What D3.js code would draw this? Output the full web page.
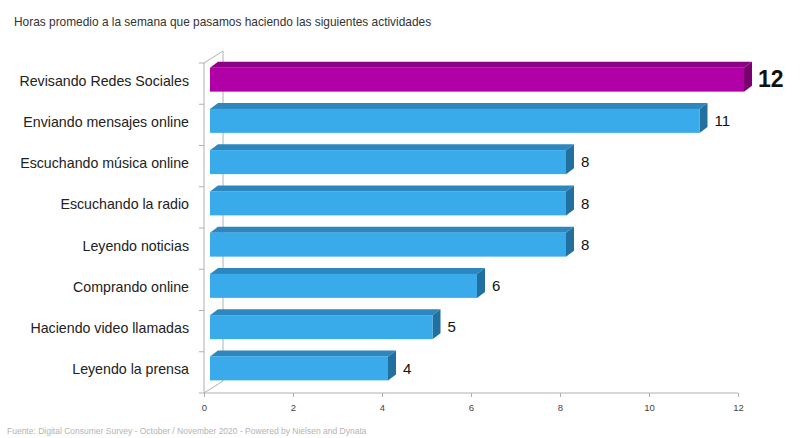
<!DOCTYPE html>
<html>
<head>
<meta charset="utf-8">
<script src="https://cdn.jsdelivr.net/npm/d3@7.9.0/dist/d3.min.js"></script>
<style>
  body { margin: 0; background: #fff; }
  svg { display: block; font-family: "Liberation Sans", Arial, sans-serif; }
</style>
</head>
<body>
<svg id="chart" width="800" height="438"></svg>
<script>
// data
const categories = [
  'Revisando Redes Sociales',
  'Enviando mensajes online',
  'Escuchando música online',
  'Escuchando la radio',
  'Leyendo noticias',
  'Comprando online',
  'Haciendo video llamadas',
  'Leyendo la prensa'
];
const hours = [12, 11, 8, 8, 8, 6, 5, 4];
const xTicks = [0, 2, 4, 6, 8, 10, 12];
const highlight = 'Revisando Redes Sociales';

const title = 'Horas promedio a la semana que pasamos haciendo las siguientes actividades';
const source = 'Fuente: Digital Consumer Survey - October / November 2020 - Powered by Nielsen and Dynata';

const svg = d3.select('#chart');

let x = d3.scaleLinear().domain([0, 12]).range([204, 738]);
let y = d3.scaleBand().domain(categories).range([63, 393]).paddingInner(0).paddingOuter(0);

// 3d offsets
const wall = { dx: 19, dy: -12 };   // depth of the left wall
const front = { dx: 6, dy: -4 };    // where the front face of a bar sits
const depth = { dx: 8, dy: -6 };    // bar thickness going back
const barH = 24;

const colors = {
  blue: { front: '#39aaea', top: '#2d87bf', side: '#22709f' },
  purple: { front: '#b000a6', top: '#8d0086', side: '#7a0072' }
};

// title + footer
svg.append('text')
  .attr('x', 14).attr('y', 26)
  .attr('font-size', 11.9)
  .attr('fill', '#333')
  .text(title);

svg.append('text')
  .attr('x', 7).attr('y', 434)
  .attr('font-size', 8.5)
  .attr('fill', '#b4b4b4')
  .text(source);

// left wall
const axisColor = '#b0b0b0';
const wallG = svg.append('g').attr('stroke', axisColor).attr('stroke-width', 1).attr('fill', 'none');
wallG.append('line')
  .attr('x1', x(0)).attr('y1', 63).attr('x2', x(0)).attr('y2', 393);
wallG.append('line')
  .attr('x1', x(0) + wall.dx).attr('y1', 63 + wall.dy)
  .attr('x2', x(0) + wall.dx).attr('y2', 393 + wall.dy);
wallG.append('line')
  .attr('x1', x(0)).attr('y1', 63).attr('x2', x(0) + wall.dx).attr('y2', 63 + wall.dy);
wallG.append('line')
  .attr('x1', x(0)).attr('y1', 393).attr('x2', x(0) + wall.dx).attr('y2', 393 + wall.dy);

// category ticks on the wall
let bounds = categories.map(c => y(c)).concat([y.range()[1]]);
wallG.selectAll('.ctick')
  .data(bounds)
  .join('line')
  .attr('x1', x(0) - 5).attr('x2', x(0))
  .attr('y1', d => d).attr('y2', d => d);

// bottom axis
let xAxis = d3.axisBottom(x).tickValues(xTicks).tickSize(4).tickPadding(7);
let axisG = svg.append('g')
  .attr('transform', 'translate(0,393)')
  .call(xAxis);
axisG.select('.domain').attr('stroke', axisColor).attr('d', `M${x(0)},0H${x(12)}`);
axisG.selectAll('.tick line').attr('stroke', axisColor);
axisG.selectAll('.tick text')
  .attr('fill', '#444')
  .attr('font-size', 9.5)
  .attr('font-family', '"Liberation Sans", Arial, sans-serif');

// category labels
svg.append('g')
  .selectAll('text')
  .data(categories)
  .join('text')
  .attr('x', 189)
  .attr('y', d => y(d) + y.bandwidth() / 2 + front.dy + 1)
  .attr('dy', '0.35em')
  .attr('text-anchor', 'end')
  .attr('font-size', 14.2)
  .attr('fill', '#222')
  .text(d => d);

// bars
const rows = categories.map((c, i) => ({ cat: c, value: hours[i] }));

let bars = svg.append('g')
  .selectAll('g')
  .data(rows)
  .join('g');

function geom(d) {
  let x0 = x(0) + front.dx;
  let x1 = x(d.value) + front.dx;
  let yc = y(d.cat) + y.bandwidth() / 2 + front.dy;
  let y0 = yc - barH / 2;
  let y1 = yc + barH / 2;
  return { x0, x1, y0, y1, yc };
}

function palette(d) {
  return d.cat === highlight ? colors.purple : colors.blue;
}

bars.append('path')
  .attr('d', d => {
    let g = geom(d);
    return `M${g.x0},${g.y0}L${g.x0 + depth.dx},${g.y0 + depth.dy}L${g.x1 + depth.dx},${g.y0 + depth.dy}L${g.x1},${g.y0}Z`;
  })
  .attr('fill', d => palette(d).top);

bars.append('path')
  .attr('d', d => {
    let g = geom(d);
    return `M${g.x1},${g.y0}L${g.x1 + depth.dx},${g.y0 + depth.dy}L${g.x1 + depth.dx},${g.y1 + depth.dy}L${g.x1},${g.y1}Z`;
  })
  .attr('fill', d => palette(d).side);

bars.append('rect')
  .attr('x', d => geom(d).x0)
  .attr('y', d => geom(d).y0)
  .attr('width', d => geom(d).x1 - geom(d).x0)
  .attr('height', barH)
  .attr('fill', d => palette(d).front);

// value labels
bars.append('text')
  .attr('x', d => geom(d).x1 + depth.dx + (d.cat === highlight ? 6 : 7))
  .attr('y', d => geom(d).yc + (d.cat === highlight ? -1 : 0))
  .attr('dy', '0.35em')
  .attr('font-size', d => d.cat === highlight ? 23 : 15)
  .attr('font-weight', d => d.cat === highlight ? 'bold' : 'normal')
  .attr('fill', '#111')
  .text(d => d.value);
</script>
</body>
</html>
